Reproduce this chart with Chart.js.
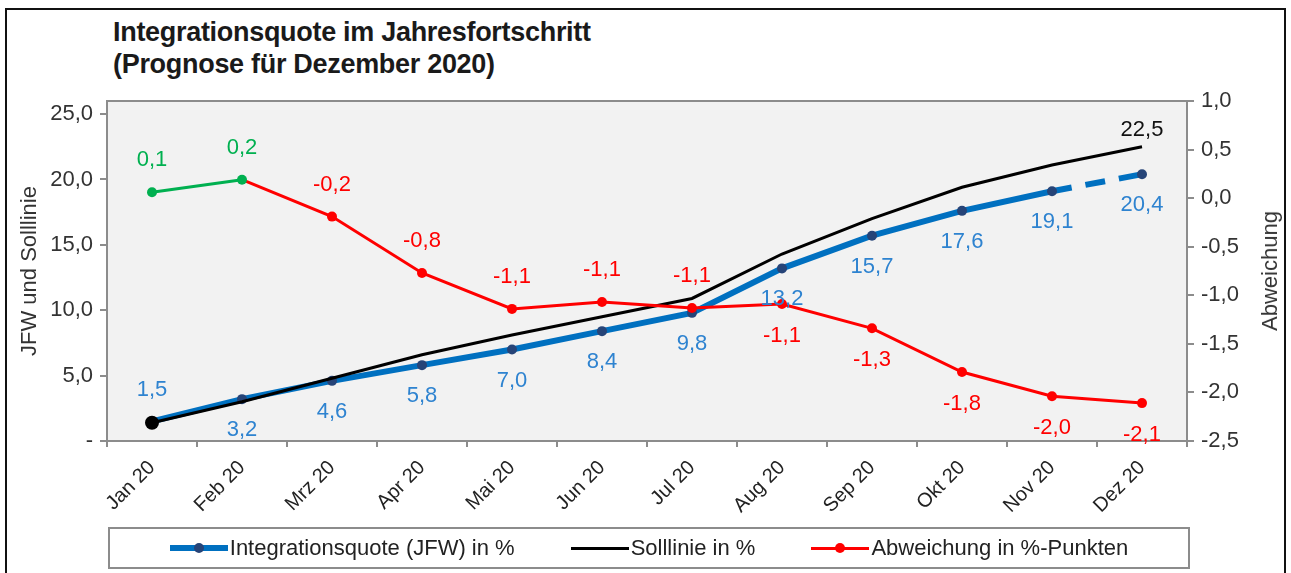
<!DOCTYPE html>
<html lang="de">
<head>
<meta charset="utf-8">
<title>Integrationsquote im Jahresfortschritt</title>
<script src="https://cdn.jsdelivr.net/npm/chart.js@4.4.1/dist/chart.umd.min.js"></script>
<style>
  body { margin: 0; background: #fff; font-family: "Liberation Sans", Arial, sans-serif; }
  #frame { position: absolute; left: 5px; top: 8px; width: 1277px; height: 600px; border: 2px solid #111; }
  #title { position: absolute; left: 113px; top: 16px; font-weight: bold; font-size: 27px; line-height: 32px; color: #1a1a1a; letter-spacing: -0.3px; }
  #wrap { position: absolute; left: 0; top: 0; width: 1291px; height: 573px; }
  #rightTitle { position: absolute; left: 1270px; top: 271px; transform: translate(-50%, -50%) rotate(-90deg); font-size: 22px; color: #333; white-space: nowrap; }
  #legend { position: absolute; left: 108px; top: 527px; width: 1078px; height: 38px; border: 2px solid #8c8c8c; display: flex; align-items: center; justify-content: center; gap: 56px; font-size: 22px; color: #222; }
  .item { display: flex; align-items: center; }
  .swatch { position: relative; width: 58px; height: 6px; margin-right: 2px; }
  .swatch .dot { position: absolute; left: 24px; top: 50%; width: 10px; height: 10px; border-radius: 50%; transform: translateY(-50%); }
</style>
</head>
<body>
<div id="frame"></div>
<div id="title">Integrationsquote im Jahresfortschritt<br>(Prognose für Dezember 2020)</div>
<div id="wrap"><canvas id="chart" width="1291" height="573"></canvas></div>
<div id="rightTitle">Abweichung</div>
<div id="legend"></div>
<script>
const months = ["Jan 20", "Feb 20", "Mrz 20", "Apr 20", "Mai 20", "Jun 20", "Jul 20", "Aug 20", "Sep 20", "Okt 20", "Nov 20", "Dez 20"];
const quote = [1.5, 3.2, 4.6, 5.8, 7.0, 8.4, 9.8, 13.2, 15.7, 17.6, 19.1, 20.4];
const soll = [1.4, 3.0, 4.8, 6.6, 8.1, 9.5, 10.9, 14.3, 17.0, 19.4, 21.1, 22.5];
const abweichung = [0.06, 0.19, -0.19, -0.77, -1.14, -1.07, -1.13, -1.09, -1.34, -1.79, -2.04, -2.11];
const leftTicks = [0, 5, 10, 15, 20, 25];
const rightTicks = [-2.5, -2.0, -1.5, -1.0, -0.5, 0.0, 0.5, 1.0];

// where each value label goes: "above", "below" or null (no label)
const quoteLabelPos = ["above", "below", "below", "below", "below", "below", "below", "below", "below", "below", "below", "below"];
const sollLabelPos = [null, null, null, null, null, null, null, null, null, null, null, "above"];
const abwLabelPos = ["above", "above", "above", "above", "above", "above", "above", "below", "below", "below", "below", "below"];

const BLUE = "#0070C0";
const NAVY = "#264478";
const BLUE_TEXT = "#2E83D0";
const RED = "#FF0000";
const GREEN = "#00B050";
const AXIS = "#8c8c8c";
const FONT = "'Liberation Sans', Arial, sans-serif";

const fmt = v => v.toFixed(1).replace(".", ",");
const lastIdx = months.length - 1;

// grey plot area with frame, like the Excel chart
const plotBackground = {
  id: "plotBackground",
  beforeDatasetsDraw(chart) {
    const { ctx, chartArea: a } = chart;
    ctx.save();
    ctx.fillStyle = "#F2F2F2";
    ctx.fillRect(a.left, a.top, a.right - a.left, a.bottom - a.top);
    ctx.strokeStyle = AXIS;
    ctx.lineWidth = 2;
    ctx.strokeRect(a.left, a.top, a.right - a.left, a.bottom - a.top);
    ctx.restore();
  }
};

// value labels next to the points
const valueLabels = {
  id: "valueLabels",
  afterDatasetsDraw(chart) {
    const ctx = chart.ctx;
    ctx.save();
    ctx.font = "22px " + FONT;
    ctx.textAlign = "center";
    ctx.textBaseline = "middle";
    chart.data.datasets.forEach((ds, i) => {
      const meta = chart.getDatasetMeta(i);
      meta.data.forEach((pt, j) => {
        const pos = ds.labelPos[j];
        if (!pos) return;
        const v = ds.data[j];
        const dy = pos === "above" ? -ds.labelGap : ds.labelGap;
        ctx.fillStyle = typeof ds.labelColor === "function" ? ds.labelColor(v) : ds.labelColor;
        ctx.fillText(fmt(v), pt.x, pt.y + dy);
      });
    });
    ctx.restore();
  }
};

const ctx = document.getElementById("chart").getContext("2d");
const chart = new Chart(ctx, {
  type: "line",
  data: {
    labels: months,
    datasets: [
      {
        label: "Integrationsquote (JFW) in %",
        data: quote,
        yAxisID: "y",
        borderColor: BLUE,
        borderWidth: 6,
        pointRadius: 5,
        pointBackgroundColor: NAVY,
        pointBorderWidth: 0,
        segment: { borderDash: c => c.p1DataIndex === lastIdx ? [20, 14] : undefined },
        labelPos: quoteLabelPos,
        labelGap: 31,
        labelColor: BLUE_TEXT,
        order: 3
      },
      {
        label: "Solllinie in %",
        data: soll,
        yAxisID: "y",
        borderColor: "#000",
        borderWidth: 3,
        pointRadius: soll.map((_, i) => i === 0 ? 7 : 0),
        pointBackgroundColor: "#000",
        pointBorderWidth: 0,
        labelPos: sollLabelPos,
        labelGap: 17,
        labelColor: "#111",
        order: 2
      },
      {
        label: "Abweichung in %-Punkten",
        data: abweichung,
        yAxisID: "y1",
        borderColor: RED,
        borderWidth: 3,
        pointRadius: 5,
        pointBackgroundColor: abweichung.map(v => v >= 0 ? GREEN : RED),
        pointBorderWidth: 0,
        segment: { borderColor: c => c.p0.parsed.y >= 0 && c.p1.parsed.y >= 0 ? GREEN : RED },
        labelPos: abwLabelPos,
        labelGap: 32,
        labelColor: v => v >= 0 ? GREEN : RED,
        order: 1
      }
    ]
  },
  options: {
    responsive: false,
    animation: false,
    layout: { padding: { left: 7, right: 14, top: 101, bottom: 50 } },
    plugins: {
      legend: { display: false },
      tooltip: { enabled: false }
    },
    scales: {
      x: {
        offset: true,
        grid: { offset: true, drawOnChartArea: false, color: AXIS, lineWidth: 2, tickLength: 6 },
        border: { color: AXIS, width: 2 },
        ticks: {
          color: "#222",
          font: { size: 20, family: FONT },
          minRotation: 45,
          maxRotation: 45,
          padding: 9
        },
        afterFit: s => { s.height = 82; }
      },
      y: {
        position: "left",
        min: 0,
        max: 26,
        afterBuildTicks: s => { s.ticks = leftTicks.map(v => ({ value: v })); },
        grid: { drawOnChartArea: false, color: AXIS, lineWidth: 2, tickLength: 7 },
        border: { color: AXIS, width: 2 },
        ticks: {
          color: "#333",
          font: { size: 22, family: FONT },
          padding: 7,
          callback: v => v === 0 ? "-" : fmt(v)
        },
        title: {
          display: true,
          text: "JFW und Solllinie",
          color: "#333",
          font: { size: 22, family: FONT },
          padding: { top: 10, bottom: 0 }
        },
        afterFit: s => { s.width = 100; }
      },
      y1: {
        position: "right",
        min: -2.5,
        max: 1.0,
        afterBuildTicks: s => { s.ticks = rightTicks.map(v => ({ value: v })); },
        grid: { drawOnChartArea: false, color: AXIS, lineWidth: 2, tickLength: 7 },
        border: { color: AXIS, width: 2 },
        ticks: {
          color: "#333",
          font: { size: 22, family: FONT },
          padding: 7,
          callback: v => fmt(v)
        },
        afterFit: s => { s.width = 90; }
      }
    }
  },
  plugins: [plotBackground, valueLabels]
});

// legend in a framed box below the chart
const legend = document.getElementById("legend");
chart.data.datasets.forEach(ds => {
  const item = document.createElement("div");
  item.className = "item";
  const sw = document.createElement("div");
  sw.className = "swatch";
  sw.style.height = ds.borderWidth + "px";
  sw.style.background = ds.borderColor;
  if (ds.pointRadius === 5) {
    const dot = document.createElement("div");
    dot.className = "dot";
    dot.style.background = ds.borderColor === BLUE ? NAVY : RED;
    sw.appendChild(dot);
  }
  const txt = document.createElement("span");
  txt.textContent = ds.label;
  item.appendChild(sw);
  item.appendChild(txt);
  legend.appendChild(item);
});
</script>
</body>
</html>
